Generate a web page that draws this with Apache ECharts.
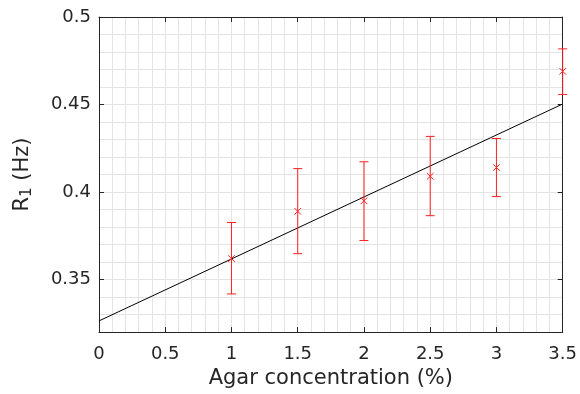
<!DOCTYPE html>
<html><head><meta charset="utf-8">
<script src="https://cdn.jsdelivr.net/npm/echarts@6/dist/echarts.min.js"></script>
<style>html,body{margin:0;padding:0;background:#fff}#c{width:580px;height:394px}</style>
</head><body><div id="c"></div>
<script>
var concentrations = [1, 1.5, 2, 2.5, 3, 3.5];
var r1Mean = [0.362, 0.389, 0.395, 0.409, 0.414, 0.469];
var r1Upper = [0.3826, 0.4134, 0.4173, 0.4318, 0.4306, 0.4818];
var r1Lower = [0.3418, 0.3648, 0.3723, 0.3865, 0.3974, 0.4557];
var fitX = [0, 3.5];
var fitY = [0.3264, 0.4503];
var xTicks = [0, 0.5, 1, 1.5, 2, 2.5, 3, 3.5];
var yTicks = [0.35, 0.4, 0.45, 0.5];

var FONT = 'DejaVu Sans';
var TXT = '#262626';
var AX = '#262626';
var GRID = '#e4e4e4';
var RED = '#ff2020';

var errData = concentrations.map(function (c, i) { return [c, r1Mean[i], r1Lower[i], r1Upper[i]]; });

var chart = echarts.init(document.getElementById('c'), null, {renderer: 'canvas'});
chart.setOption({
  animation: false,
  grid: {left: 99, top: 17, right: 17, bottom: 57, containLabel: false},
  xAxis: [{
    type: 'value', min: 0, max: 3.5, interval: 0.5, position: 'bottom',
    axisLine: {show: true, onZero: false, lineStyle: {color: AX, width: 1}},
    axisTick: {show: true, inside: true, length: 5, lineStyle: {color: AX}},
    minorTick: {show: false, splitNumber: 5},
    splitLine: {show: true, lineStyle: {color: GRID, width: 1}},
    minorSplitLine: {show: true, lineStyle: {color: GRID, width: 1}},
    axisLabel: {color: TXT, fontFamily: FONT, fontSize: 18, margin: 13,
      formatter: function (v) { return String(+v.toFixed(2)); }},
    name: 'Agar concentration (%)', nameLocation: 'middle', nameGap: 35,
    nameTextStyle: {color: TXT, fontFamily: FONT, fontSize: 21}
  }, {
    type: 'value', min: 0, max: 3.5, interval: 0.5, position: 'top',
    axisLine: {show: true, onZero: false, lineStyle: {color: AX, width: 1}},
    axisTick: {show: true, inside: true, length: 5, lineStyle: {color: AX}},
    axisLabel: {show: false}, splitLine: {show: false}
  }],
  yAxis: [{
    type: 'value', min: 0.32, max: 0.5, interval: 0.01, position: 'left',
    axisLine: {show: false}, axisTick: {show: false}, axisLabel: {show: false},
    splitLine: {show: true, lineStyle: {color: GRID, width: 1}}
  }, {
    type: 'value', min: 0.32, max: 0.5, position: 'left',
    axisLine: {show: true, onZero: false, lineStyle: {color: AX, width: 1}},
    axisTick: {show: true, inside: true, length: 5, customValues: yTicks, lineStyle: {color: AX}},
    axisLabel: {color: TXT, fontFamily: FONT, fontSize: 18, margin: 8, customValues: yTicks,
      formatter: function (v) { return String(+v.toFixed(2)); }},
    splitLine: {show: false},
    name: 'R{sub|1} (Hz)', nameLocation: 'middle', nameGap: 64, nameRotate: 90,
    nameTextStyle: {color: TXT, fontFamily: FONT, fontSize: 21,
      rich: {sub: {fontFamily: FONT, fontSize: 15, color: TXT, verticalAlign: 'bottom', padding: [9, 0, 0, 0]}}}
  }, {
    type: 'value', min: 0.32, max: 0.5, position: 'right',
    axisLine: {show: true, onZero: false, lineStyle: {color: AX, width: 1}},
    axisTick: {show: true, inside: true, length: 5, customValues: yTicks, lineStyle: {color: AX}},
    axisLabel: {show: false}, splitLine: {show: false}
  }],
  series: [{
    type: 'line', xAxisIndex: 0, yAxisIndex: 0, symbol: 'none',
    data: fitX.map(function (x, i) { return [x, fitY[i]]; }),
    lineStyle: {color: '#000', width: 1}, z: 3
  }, {
    type: 'custom', xAxisIndex: 0, yAxisIndex: 0, z: 4,
    data: errData,
    renderItem: function (params, api) {
      var c = api.coord([api.value(0), api.value(1)]);
      var lo = api.coord([api.value(0), api.value(2)]);
      var hi = api.coord([api.value(0), api.value(3)]);
      var cap = 4.5, m = 3.3;
      var st = {stroke: RED, lineWidth: 1, fill: null};
      return {type: 'group', children: [
        {type: 'line', shape: {x1: lo[0], y1: lo[1], x2: hi[0], y2: hi[1]}, style: st},
        {type: 'line', shape: {x1: lo[0] - cap, y1: lo[1], x2: lo[0] + cap, y2: lo[1]}, style: st},
        {type: 'line', shape: {x1: hi[0] - cap, y1: hi[1], x2: hi[0] + cap, y2: hi[1]}, style: st},
        {type: 'line', shape: {x1: c[0] - m, y1: c[1] - m, x2: c[0] + m, y2: c[1] + m}, style: st},
        {type: 'line', shape: {x1: c[0] - m, y1: c[1] + m, x2: c[0] + m, y2: c[1] - m}, style: st}
      ]};
    }
  }]
});
</script></body></html>
